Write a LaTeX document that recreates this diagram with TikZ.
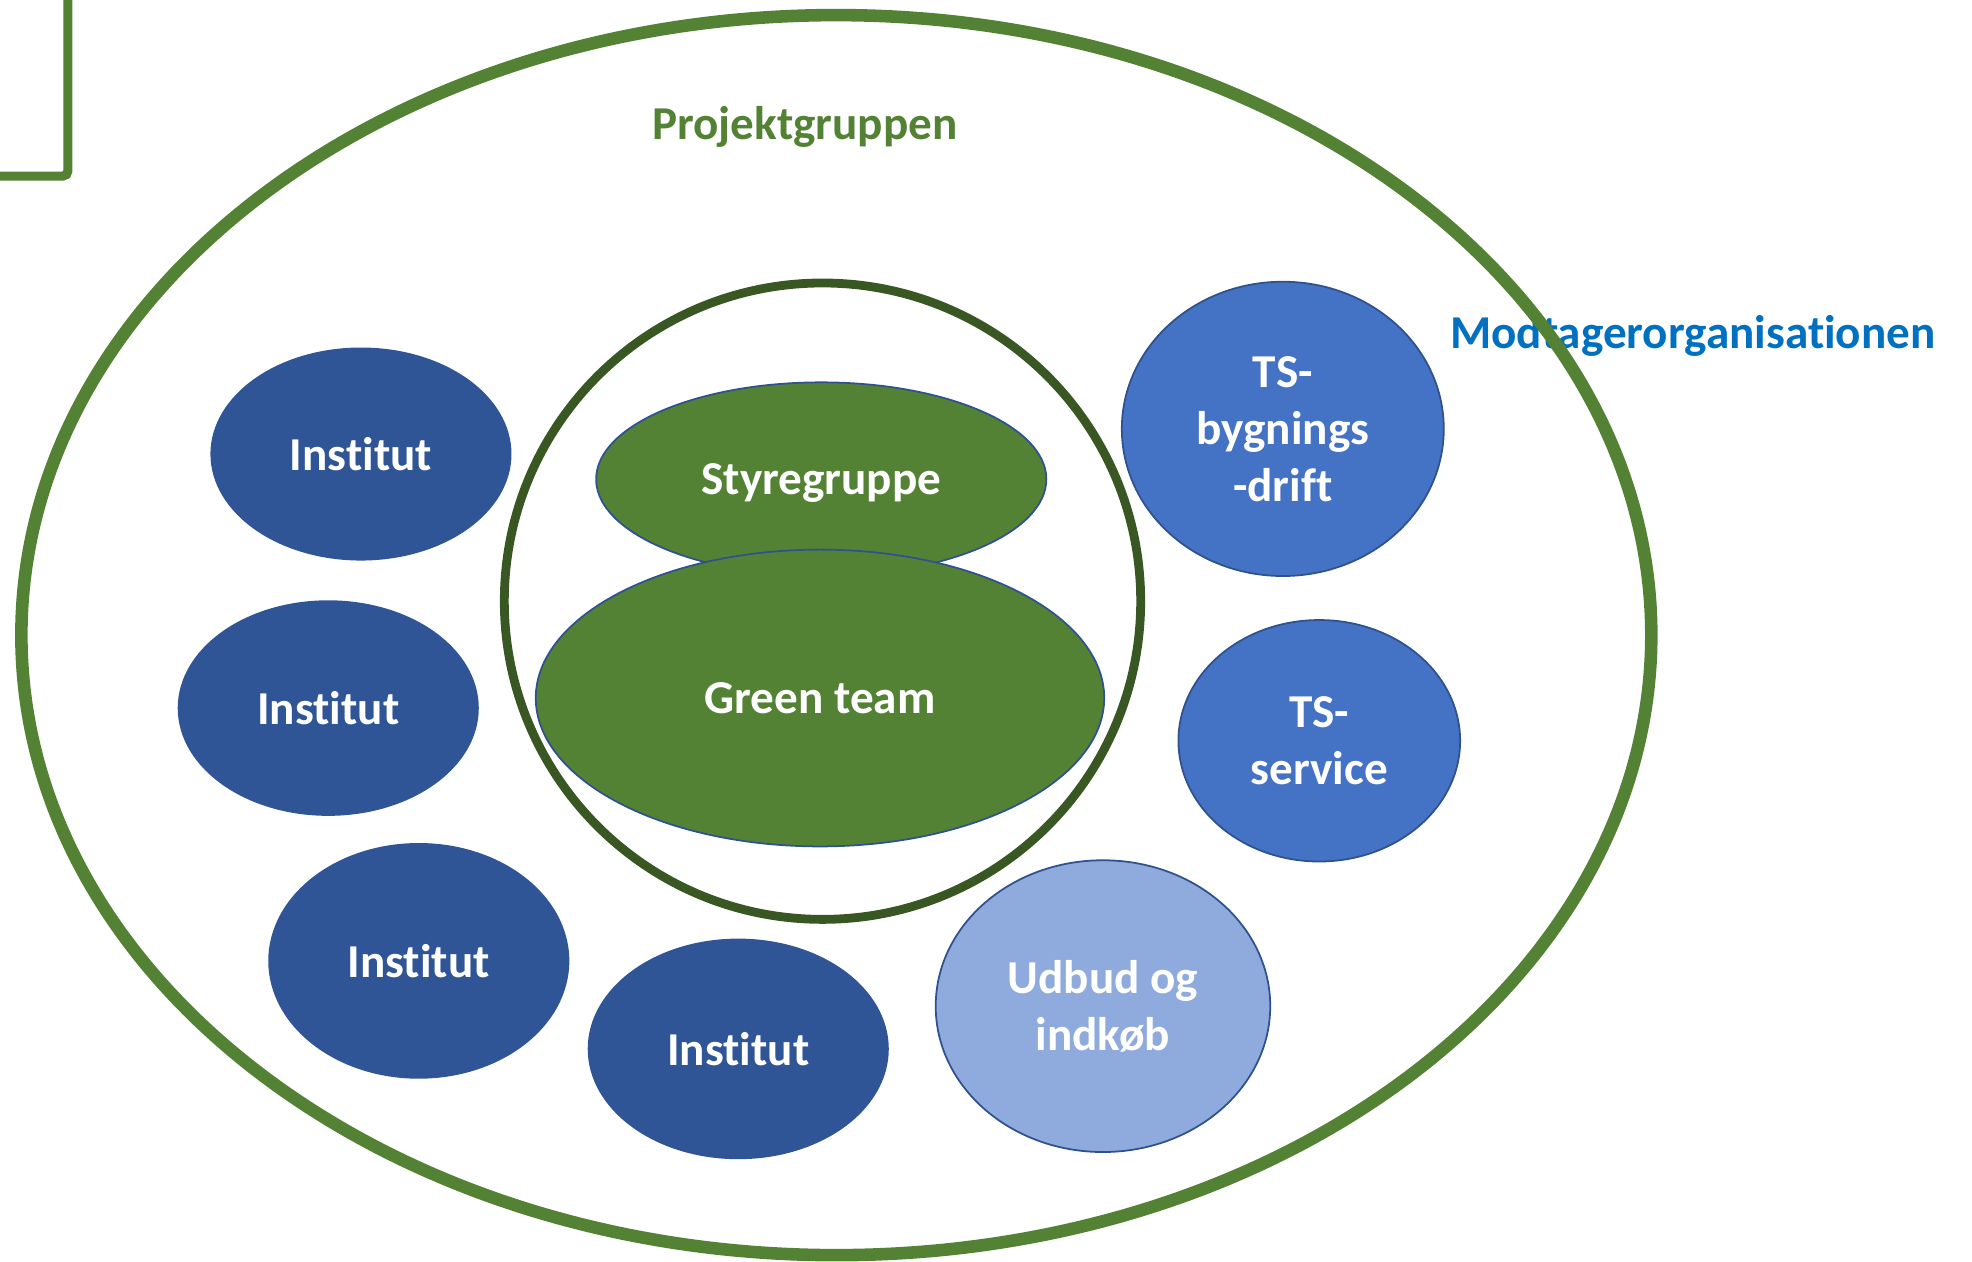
\documentclass[tikz,border=0pt]{standalone}
\usepackage{fontspec}
\setmainfont{Carlito}[Ligatures=NoCommon]
\usetikzlibrary{shapes.geometric}
\definecolor{ogreen}{HTML}{548235}
\definecolor{dgreen}{HTML}{385723}
\definecolor{iblue}{HTML}{2F5597}
\definecolor{tblue}{HTML}{4472C4}
\definecolor{lblue}{HTML}{8FAADC}
\definecolor{bord}{HTML}{2F528F}
\definecolor{mblue}{HTML}{0070C0}
\tikzset{
  lbl/.style={font=\fontsize{18.75}{22.9}\selectfont\bfseries, align=center, inner sep=0pt},
  blob/.style={ellipse, draw=bord, line width=0.7pt, inner sep=0pt, text=white,
    font=\fontsize{18.75}{22.6}\selectfont\bfseries, align=center},
  inst/.style={blob, fill=iblue, draw=iblue},
  ts/.style={blob, fill=tblue},
  udb/.style={blob, fill=lblue},
  grn/.style={blob, fill=ogreen},
}
\begin{document}
\begin{tikzpicture}[x=0.5pt, y=-0.5pt]
\useasboundingbox (0,0) rectangle (1568,1003);
\clip (0,0) rectangle (1568,1003);
% corner bracket
\coordinate (bt) at (54,-20);
\coordinate (bc) at (54,140);
\coordinate (bl) at (-20,140);
\draw[ogreen, line width=3.6pt, rounded corners=2pt] (bt) -- (bc) -- (bl);
% labels
\node[lbl, text=mblue] (modt) at (1346,267) {Modtagerorganisationen};
\node[lbl, text=ogreen] (proj) at (640,101) {Projektgruppen};
% outer ellipse
\node[ellipse, draw=ogreen, line width=5pt, minimum width=648pt, minimum height=493pt] (outer) at (665,505) {};
% inner circle
\node[circle, draw=dgreen, line width=3.5pt, minimum size=253pt] (inner) at (654,478) {};
% green groups
\node[grn, minimum width=179pt, minimum height=77pt] (styr) at (653,381) {\raisebox{-1.5pt}[\height][\depth]{Styregruppe}};
\node[grn, minimum width=226pt, minimum height=118pt] (green) at (652,555) {Green team};
% institutes
\node[inst, minimum width=119pt, minimum height=84pt] (i1) at (287,361) {Institut};
\node[inst, minimum width=119pt, minimum height=85pt] (i2) at (261,563) {Institut};
\node[inst, minimum width=119pt, minimum height=93pt] (i3) at (333,764) {Institut};
\node[inst, minimum width=119pt, minimum height=87pt] (i4) at (587,834) {Institut};
% TS
\node[ts, minimum width=128pt, minimum height=117pt] (tsb) at (1020,341) {TS-\\bygnings\\-drift};
\node[ts, minimum width=112pt, minimum height=96pt] (tss) at (1049,589) {TS-\\service};
\node[udb, minimum width=133pt, minimum height=116pt] (udbud) at (877,800) {Udbud og\\indkøb};
\end{tikzpicture}
\end{document}
